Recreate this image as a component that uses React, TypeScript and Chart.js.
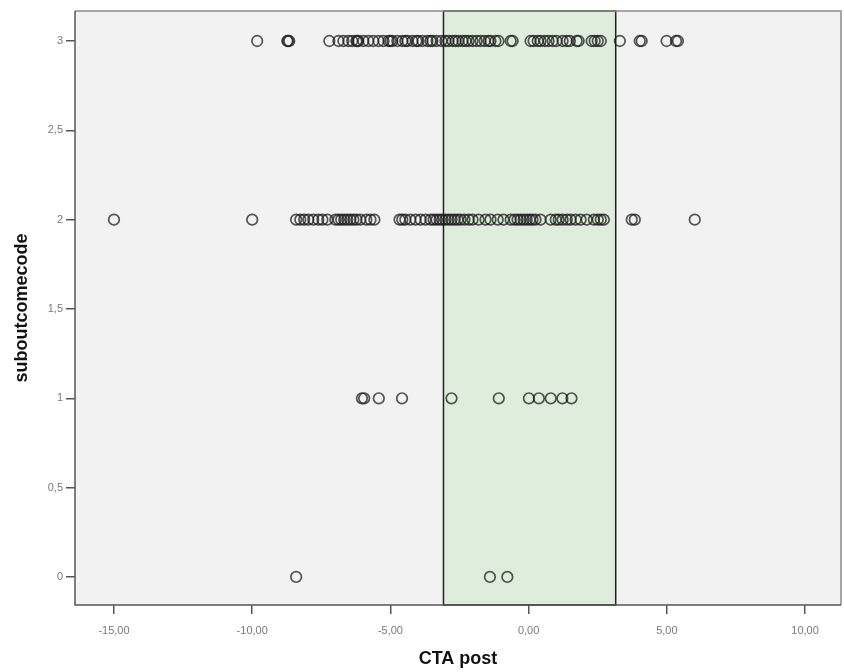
import React, { useEffect, useRef } from "react";
import { Chart, registerables } from "chart.js";

Chart.register(...registerables);

// CTA post values for each suboutcomecode level
const code3Values = [
  -9.82, -8.73, -8.70, -8.66, -7.21, -6.88, -6.70, -6.52, -6.38, -6.23, -6.20, -6.16,
  -5.98, -5.80, -5.62, -5.43, -5.25, -5.07, -5.00, -4.93, -4.75, -4.57, -4.46, -4.38,
  -4.20, -4.06, -3.99, -3.84, -3.66, -3.55, -3.48, -3.33, -3.15, -3.01, -2.90, -2.75,
  -2.64, -2.54, -2.39, -2.28, -2.17, -2.03, -1.88, -1.74, -1.59, -1.45, -1.38, -1.20,
  -1.09, -0.65, -0.58, 0.07, 0.18, 0.33, 0.43, 0.58, 0.72, 0.87, 1.01, 1.23, 1.38,
  1.49, 1.74, 1.81, 2.28, 2.39, 2.50, 2.61, 3.30, 4.02, 4.09, 4.99, 5.33, 5.40,
];
const code2Values = [
  -15.0, -10.0, -8.41, -8.26, -8.12, -7.97, -7.79, -7.61, -7.46, -7.28, -6.99, -6.88,
  -6.78, -6.67, -6.56, -6.45, -6.34, -6.23, -6.09, -5.87, -5.72, -5.58, -4.67, -4.57,
  -4.46, -4.28, -4.09, -3.91, -3.73, -3.55, -3.44, -3.33, -3.22, -3.12, -3.01, -2.90,
  -2.79, -2.68, -2.57, -2.46, -2.32, -2.17, -2.03, -1.81, -1.56, -1.38, -1.12, -0.91,
  -0.65, -0.51, -0.40, -0.29, -0.18, -0.07, 0.04, 0.14, 0.25, 0.43, 0.80, 0.98, 1.09,
  1.23, 1.38, 1.52, 1.70, 1.88, 2.10, 2.36, 2.50, 2.61, 2.72, 3.73, 3.84, 6.01,
];
const code1Values = [-6.03, -5.95, -5.42, -4.58, -2.79, -1.08, 0.01, 0.37, 0.80, 1.22, 1.55];
const code0Values = [-8.41, -1.40, -0.77];

const codes = [3, 2, 1, 0];
const valuesByCode = [code3Values, code2Values, code1Values, code0Values];

const xTickValues = [-15, -10, -5, 0, 5, 10];
const yTickValues = [0, 0.5, 1, 1.5, 2, 2.5, 3];

const bandRange = [-3.08, 3.15];

const xTitle = "CTA post";
const yTitle = "suboutcomecode";

const fmtComma = (v: number, d: number) => v.toFixed(d).replace(".", ",");

export default function App() {
  const ref = useRef<HTMLCanvasElement | null>(null);

  useEffect(() => {
    if (!ref.current) return;
    const points: { x: number; y: number }[] = [];
    codes.forEach((c, i) => valuesByCode[i].forEach((v) => points.push({ x: v, y: c })));

    const bgPlugin = {
      id: "bgPlugin",
      beforeDraw(chart: any) {
        const { ctx, chartArea: a } = chart;
        ctx.save();
        ctx.fillStyle = "#ffffff";
        ctx.fillRect(0, 0, chart.width, chart.height);
        ctx.fillStyle = "#f2f2f2";
        ctx.fillRect(a.left, a.top, a.right - a.left, a.bottom - a.top);
        ctx.restore();
      },
      beforeDatasetsDraw(chart: any) {
        const { ctx, chartArea: a, scales } = chart;
        const x0 = scales.x.getPixelForValue(bandRange[0]);
        const x1 = scales.x.getPixelForValue(bandRange[1]);
        ctx.save();
        ctx.fillStyle = "#dfeedc";
        ctx.fillRect(x0, a.top, x1 - x0, a.bottom - a.top);
        ctx.strokeStyle = "#222222";
        ctx.lineWidth = 1.5;
        ctx.strokeRect(x0, a.top, x1 - x0, a.bottom - a.top);
        // frame
        ctx.strokeStyle = "#8a8a8a";
        ctx.lineWidth = 1.5;
        ctx.beginPath();
        ctx.moveTo(a.left, a.top);
        ctx.lineTo(a.right, a.top);
        ctx.lineTo(a.right, a.bottom);
        ctx.stroke();
        ctx.strokeStyle = "#555555";
        ctx.beginPath();
        ctx.moveTo(a.left, a.top);
        ctx.lineTo(a.left, a.bottom);
        ctx.lineTo(a.right, a.bottom);
        ctx.stroke();
        ctx.restore();
      },
    };

    const chart = new Chart(ref.current, {
      type: "scatter",
      data: {
        datasets: [
          {
            data: points,
            pointRadius: 5.3,
            pointBorderWidth: 1.7,
            pointBorderColor: "rgba(30,30,30,0.75)",
            pointBackgroundColor: "rgba(0,0,0,0)",
            pointHoverRadius: 5.3,
          } as any,
        ],
      },
      options: {
        animation: false,
        responsive: false,
        layout: { autoPadding: false, padding: { left: 0, top: 11, right: 3, bottom: 0 } },
        plugins: { legend: { display: false }, tooltip: { enabled: false } },
        scales: {
          x: {
            type: "linear",
            min: -16.41,
            max: 11.3,
            afterFit(scale: any) {
              scale.height = 67;
              scale.paddingLeft = 0;
              scale.paddingRight = 0;
            },
            afterBuildTicks(scale: any) {
              scale.ticks = xTickValues.map((v) => ({ value: v }));
            },
            grid: { drawOnChartArea: false, drawTicks: true, tickLength: 9, color: "#555555", lineWidth: 1.5 },
            border: { display: false },
            ticks: {
              padding: 10,
              color: "#7a7a7a",
              font: { family: "'Liberation Sans', Arial, sans-serif", size: 11 },
              callback: (v: any) => fmtComma(Number(v), 2),
              maxRotation: 0,
            },
            title: {
              display: true,
              text: xTitle,
              color: "#111111",
              font: { family: "'Liberation Sans', Arial, sans-serif", size: 18, weight: "bold" },
              padding: { top: 0, bottom: 2 },
            },
          },
          y: {
            type: "linear",
            min: -0.157,
            max: 3.168,
            afterFit(scale: any) {
              scale.width = 75;
              scale.paddingTop = 0;
              scale.paddingBottom = 0;
            },
            afterBuildTicks(scale: any) {
              scale.ticks = yTickValues.map((v) => ({ value: v }));
            },
            grid: { drawOnChartArea: false, drawTicks: true, tickLength: 9, color: "#555555", lineWidth: 1.5 },
            border: { display: false },
            ticks: {
              padding: 3,
              color: "#7a7a7a",
              font: { family: "'Liberation Sans', Arial, sans-serif", size: 11 },
              callback: (v: any) => {
                const n = Number(v);
                return Number.isInteger(n) ? String(n) : fmtComma(n, 1);
              },
            },
            title: {
              display: true,
              text: yTitle,
              color: "#111111",
              font: { family: "'Liberation Sans', Arial, sans-serif", size: 18, weight: "bold" },
              padding: { top: 11, bottom: 0 },
            },
          },
        },
      },
      plugins: [bgPlugin],
    });
    return () => chart.destroy();
  }, []);

  return (
    <div style={{ position: "absolute", left: 0, top: 0, width: 844, height: 672 }}>
      <canvas ref={ref} width={844} height={672} style={{ width: 844, height: 672 }} />
    </div>
  );
}
